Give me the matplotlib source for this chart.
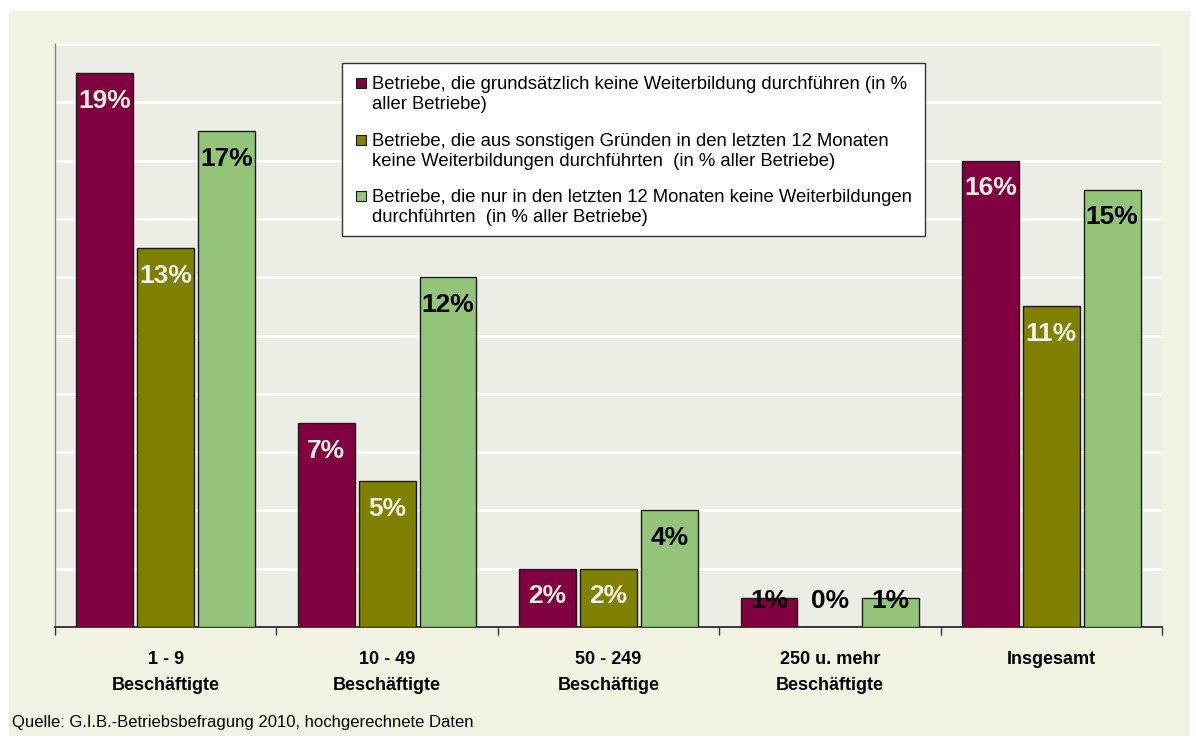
import numpy as np
import matplotlib
matplotlib.use("Agg")
import matplotlib.pyplot as plt
from matplotlib.patches import Rectangle

categories = ["1 - 9\nBeschäftigte", "10 - 49\nBeschäftigte", "50 - 249\nBeschäftige",
              "250 u. mehr\nBeschäftigte", "Insgesamt"]
series_names = [
    ["Betriebe, die grundsätzlich keine Weiterbildung durchführen (in %", "aller Betriebe)"],
    ["Betriebe, die aus sonstigen Gründen in den letzten 12 Monaten",
     "keine Weiterbildungen durchführten  (in % aller Betriebe)"],
    ["Betriebe, die nur in den letzten 12 Monaten keine Weiterbildungen",
     "durchführten  (in % aller Betriebe)"],
]
grundsaetzlich = [19, 7, 2, 1, 16]
sonstige = [13, 5, 2, 0, 11]
nur_letzte = [17, 12, 4, 1, 15]
series = [grundsaetzlich, sonstige, nur_letzte]
colors = ["#800040", "#808000", "#93C47A"]
label_colors = ["#ECECDC", "#F4F4EC", "#000000"]

plt.rcParams['font.family'] = ['Liberation Sans', 'DejaVu Sans']

W, H = 1196, 738
fig = plt.figure(figsize=(W / 100, H / 100), dpi=100, facecolor="white")

def fx(px):
    return px / W

def fy(py):
    return 1 - py / H

# beige chart area
fig.patches.append(Rectangle((fx(9), fy(736)), fx(1190) - fx(9), fy(11) - fy(736),
                             transform=fig.transFigure, facecolor="#F3F3E4",
                             edgecolor="none", zorder=-10))

ax = fig.add_axes([fx(55), fy(627), fx(1162) - fx(55), fy(44) - fy(627)])
ax.set_facecolor("#ECEEE6")

x = np.arange(len(categories))
width = 0.257
step = 0.275
for i, (vals, c) in enumerate(zip(series, colors)):
    pos = x + (i - 1) * step
    ax.bar(pos, vals, width, color=c, edgecolor="#1a1a1a", linewidth=1.0, zorder=3)
    for p, v in zip(pos, vals):
        ly = max(v - 0.95, 0.88)
        tc = label_colors[i] if v >= 1.5 else "#000000"
        ax.text(p, ly, f"{v}%", ha="center", va="center", fontsize=19,
                fontweight="bold", color=tc, zorder=4)

ax.set_xlim(-0.5, len(categories) - 0.5)
ax.set_ylim(0, 20)
ax.set_yticks(np.arange(0, 21, 2))
ax.yaxis.grid(True, color="white", linewidth=2.2, zorder=1)
ax.set_axisbelow(True)
ax.tick_params(axis="y", length=0, labelleft=False)

ax.set_xticks(x)
ax.set_xticklabels(categories, fontsize=13, fontweight="bold", linespacing=1.7)
ax.tick_params(axis="x", which="major", length=0, pad=17)
ax.set_xticks(np.arange(-0.5, len(categories), 1), minor=True)
ax.tick_params(axis="x", which="minor", length=6, width=1, color="#333333", direction="out")

for s in ["top", "right"]:
    ax.spines[s].set_visible(False)
ax.spines["left"].set_color("#808080")
ax.spines["left"].set_linewidth(1)
ax.spines["bottom"].set_color("#1a1a1a")
ax.spines["bottom"].set_linewidth(1.2)

# legend box
fig.patches.append(Rectangle((fx(342), fy(236)), fx(925) - fx(342), fy(63) - fy(236),
                             transform=fig.transFigure, facecolor="white",
                             edgecolor="#333333", linewidth=1, zorder=5))
baselines = [(89, 109), (146, 166), (202, 222)]
for (b1, b2), names, c in zip(baselines, series_names, colors):
    fig.patches.append(Rectangle((fx(356), fy(b1 - 1)), fx(366) - fx(356), fy(b1 - 11) - fy(b1 - 1),
                                 transform=fig.transFigure, facecolor=c,
                                 edgecolor="#1a1a1a", linewidth=0.8, zorder=6))
    fig.text(fx(372), fy(b1), names[0], fontsize=13.3, va="baseline", ha="left", zorder=7)
    fig.text(fx(372), fy(b2), names[1], fontsize=13.3, va="baseline", ha="left", zorder=7)

fig.text(fx(12), fy(727), "Quelle: G.I.B.-Betriebsbefragung 2010, hochgerechnete Daten",
         fontsize=12, va="baseline", ha="left")

fig.savefig("out.png", dpi=100, facecolor=fig.get_facecolor())
